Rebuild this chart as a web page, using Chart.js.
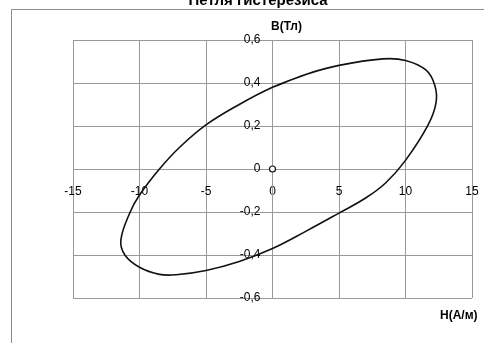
<!DOCTYPE html>
<html>
<head>
<meta charset="utf-8">
<script src="https://cdn.jsdelivr.net/npm/chart.js@4/dist/chart.umd.min.js"></script>
<style>
  html, body { margin: 0; padding: 0; background: #fff; }
  #wrap { width: 484px; height: 343px; }
</style>
</head>
<body>
<div id="wrap"><canvas id="chart" width="484" height="343"></canvas></div>
<script>
// Hysteresis loop, H in A/m, B in T (walked clockwise
// from H = 0; the first segment is repeated at the end so the seam stays smooth)
const loopH = [0, 2.5, 5, 8.3, 10, 11.55, 12.2, 12.3, 11.7, 10, 8.5, 7, 5, 2.5, 0, -2.5, -5, -7.25, -8.5, -10, -11.1, -11.4, -10.7, -10, -8.5, -7, -5, -2.5, 0, 2.5];
const loopB = [0.38, 0.44, 0.482, 0.512, 0.505, 0.46, 0.39, 0.31, 0.205, 0.04, -0.065, -0.135, -0.205, -0.29, -0.37, -0.43, -0.472, -0.492, -0.49, -0.457, -0.4, -0.33, -0.2, -0.121, 0, 0.1, 0.205, 0.3, 0.38, 0.44];
const originH = [0];
const originB = [0];
const hTicks = { min: -15, max: 15, step: 5 };
const bTicks = { min: -0.6, max: 0.6, step: 0.2 };

const FONT = "'Liberation Sans', Arial, sans-serif";
const GRID = "#9a9a9a";

const toPts = (xs, ys) => xs.map((x, i) => ({ x, y: ys[i] }));
// decimal comma; the en spaces keep the label off the centred axis line
const comma = (v) => {
  const r = Math.round(v * 10) / 10;
  return (r === 0 ? "0" : r.toFixed(1).replace(".", ",")) + "\u2002\u2002";
};

// frame, title and axis names, Excel style
const decor = {
  id: "decor",
  beforeDraw(chart) {
    const c = chart.ctx;
    c.save();
    c.strokeStyle = "#8c8c8c";
    c.lineWidth = 1;
    c.beginPath();
    c.moveTo(11.5, 343); c.lineTo(11.5, 9.5); c.lineTo(484, 9.5);
    c.stroke();
    c.restore();
  },
  afterDraw(chart) {
    const c = chart.ctx;
    const x0 = chart.scales.x.getPixelForValue(0);
    const top = chart.chartArea.top, bottom = chart.chartArea.bottom;
    c.save();
    c.fillStyle = "#000";
    c.font = "bold 15px " + FONT;
    c.textAlign = "center"; c.textBaseline = "alphabetic";
    c.fillText("Петля гистерезиса", 258, 5);
    c.font = "bold 12px " + FONT;
    c.textBaseline = "middle";
    c.fillText("B(Тл)", x0 + 14, top - 13);
    c.textAlign = "left";
    c.fillText("H(А/м)", 440, bottom + 18);
    c.restore();
  },
};

new Chart(document.getElementById("chart").getContext("2d"), {
  type: "scatter",
  data: {
    datasets: [
      {
        data: toPts(loopH, loopB), showLine: true, tension: 0.4,
        borderColor: "#111", borderWidth: 1.6, pointRadius: 0, fill: false,
      },
      {
        data: toPts(originH, originB), showLine: false,
        pointRadius: 3, pointBackgroundColor: "#fff", pointBorderColor: "#111", pointBorderWidth: 1.2,
      },
    ],
  },
  options: {
    responsive: false,
    animation: false,
    layout: { padding: { left: 73, right: 12, top: 40, bottom: 45 } },
    plugins: { legend: { display: false }, tooltip: { enabled: false }, title: { display: false } },
    scales: {
      x: {
        type: "linear", position: { y: 0 }, min: hTicks.min, max: hTicks.max,
        // invisible tick marks push the labels down (ticks.padding would also eat chart width)
        grid: { color: GRID, drawTicks: true, tickLength: 15, tickColor: "rgba(0,0,0,0)" },
        border: { color: GRID },
        ticks: { stepSize: hTicks.step, padding: 0, color: "#000", font: { family: FONT, size: 12 } },
      },
      y: {
        type: "linear", position: { x: 0 }, min: bTicks.min, max: bTicks.max,
        grid: { color: GRID, drawTicks: false },
        border: { color: GRID },
        ticks: { stepSize: bTicks.step, color: "#000", font: { family: FONT, size: 12 }, callback: comma },
      },
    },
  },
  plugins: [decor],
});
</script>
</body>
</html>
